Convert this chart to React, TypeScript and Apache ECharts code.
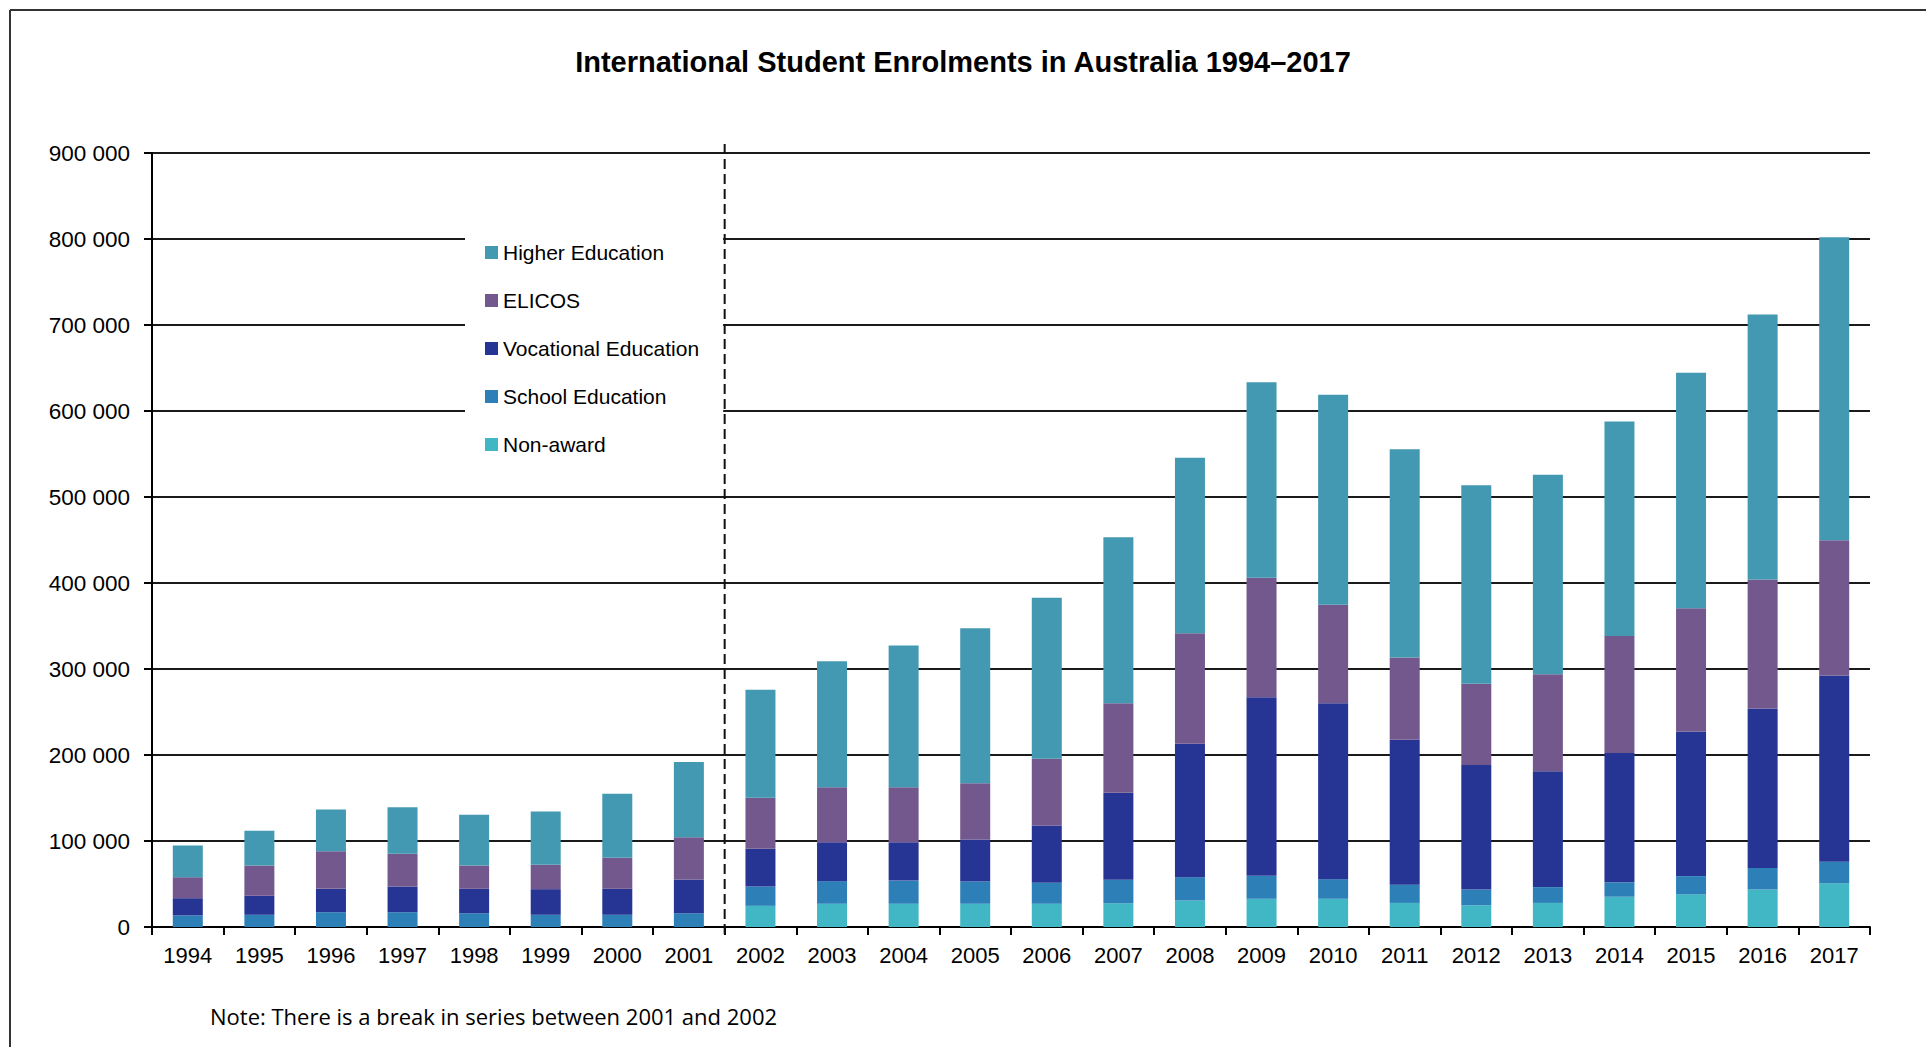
import React, { useEffect, useRef } from 'react';
import * as echarts from 'echarts';

const years = [
  '1994', '1995', '1996', '1997', '1998', '1999', '2000', '2001',
  '2002', '2003', '2004', '2005', '2006', '2007', '2008', '2009',
  '2010', '2011', '2012', '2013', '2014', '2015', '2016', '2017',
];

const nonAward = [0, 0, 0, 0, 0, 0, 0, 0, 24600, 27000, 27000, 27000, 27000, 27700, 30800, 32800, 32800, 28000, 25200, 28000, 35200, 38000, 43600, 50800];
const schoolEducation = [13400, 14200, 17200, 17200, 16000, 14200, 14200, 16000, 22500, 26300, 27000, 25900, 24400, 27200, 27100, 26700, 22800, 21200, 18400, 18400, 16800, 21200, 25000, 25100];
const vocationalEducation = [20100, 22100, 27200, 29900, 28400, 29800, 30200, 39200, 43800, 45300, 44600, 48800, 66600, 101100, 155100, 207700, 204600, 168600, 144700, 134600, 150200, 168000, 185400, 216400];
const elicos = [24400, 35200, 43700, 38000, 27100, 28300, 36100, 49200, 59300, 64000, 64000, 65500, 77600, 104200, 128600, 138800, 114500, 95700, 94500, 113000, 136300, 143500, 150200, 157500];
const higherEducation = [36900, 40500, 48500, 54200, 59000, 62000, 74400, 87400, 125800, 146400, 164800, 180200, 187200, 193100, 204000, 227500, 244100, 242000, 230900, 232000, 249300, 273800, 308100, 352200];

const legendOrder = ['Higher Education', 'ELICOS', 'Vocational Education', 'School Education', 'Non-award'];

const titleText = 'International Student Enrolments in Australia 1994\u20132017';
const noteText = 'Note: There is a break in series between 2001 and 2002';

const FONT = '"Liberation Sans", Arial, sans-serif';

export default function App() {
  const ref = useRef<HTMLDivElement>(null);

  useEffect(() => {
    if (!ref.current) return;
    const chart = echarts.init(ref.current, null, { renderer: 'svg' });

    const mk = (name: string, data: number[], color: string) => ({
      name,
      type: 'bar',
      stack: 'total',
      data,
      barWidth: 30,
      itemStyle: { color },
      emphasis: { disabled: true },
    });

    chart.setOption({
      animation: false,
      backgroundColor: '#ffffff',
      title: {
        text: titleText,
        left: 'center',
        top: 42,
        textStyle: { fontFamily: FONT, fontSize: 29, fontWeight: 'bold', color: '#000' },
      },
      legend: {
        data: legendOrder,
        orient: 'vertical',
        left: 465,
        top: 220,
        backgroundColor: '#ffffff',
        padding: [22, 24, 22, 20],
        itemGap: 27,
        itemWidth: 13,
        itemHeight: 13,
        icon: 'rect',
        selectedMode: false,
        textStyle: { fontFamily: FONT, fontSize: 21, color: '#000' },
      },
      grid: { left: 152, right: 56, top: 153, bottom: 120 },
      xAxis: {
        type: 'category',
        data: years,
        axisLine: { show: true, lineStyle: { color: '#000', width: 2 } },
        axisTick: { show: true, length: 8, interval: 0, lineStyle: { color: '#000', width: 2 } },
        axisLabel: { interval: 0, margin: 17, fontFamily: FONT, fontSize: 22, color: '#000' },
        splitLine: { show: false },
      },
      yAxis: {
        type: 'value',
        min: 0,
        max: 900000,
        interval: 100000,
        axisLine: { show: true, lineStyle: { color: '#000', width: 2 } },
        axisTick: { show: true, length: 8, lineStyle: { color: '#000', width: 2 } },
        axisLabel: {
          margin: 22,
          fontFamily: FONT,
          fontSize: 22.5,
          color: '#000',
          formatter: (v: number) => (v === 0 ? '0' : `${v / 1000} 000`),
        },
        splitLine: { show: true, lineStyle: { color: '#1a1a1a', width: 2 } },
      },
      series: [
        mk('Non-award', nonAward, '#41b6c4'),
        mk('School Education', schoolEducation, '#2d7fb8'),
        mk('Vocational Education', vocationalEducation, '#263593'),
        mk('ELICOS', elicos, '#73588d'),
        mk('Higher Education', higherEducation, '#4399b1'),
      ],
    });

    const x7 = chart.convertToPixel({ xAxisIndex: 0 }, years[7]) as number;
    const x8 = chart.convertToPixel({ xAxisIndex: 0 }, years[8]) as number;
    const breakX = (x7 + x8) / 2;
    const yTop = chart.convertToPixel({ yAxisIndex: 0 }, 900000) as number;
    const yBottom = chart.convertToPixel({ yAxisIndex: 0 }, 0) as number;

    chart.setOption({
      graphic: [
        {
          type: 'line',
          z: 100,
          shape: { x1: 10, y1: 10, x2: 1926, y2: 10 },
          style: { stroke: '#333', lineWidth: 2 },
        },
        {
          type: 'line',
          z: 100,
          shape: { x1: 10, y1: 10, x2: 10, y2: 1047 },
          style: { stroke: '#333', lineWidth: 2 },
        },
        {
          type: 'line',
          z: 100,
          shape: { x1: breakX, y1: yTop - 9, x2: breakX, y2: yBottom + 8 },
          style: { stroke: '#111', lineWidth: 2, lineDash: [10, 5] },
        },
        {
          type: 'text',
          z: 100,
          x: 210,
          y: 1016,
          style: {
            text: noteText,
            font: '22px "Open Sans", "Noto Sans", sans-serif',
            fill: '#000',
            verticalAlign: 'middle',
          },
        },
      ],
    });

    return () => chart.dispose();
  }, []);

  return (
    <div
      ref={ref}
      style={{ position: 'fixed', left: 0, top: 0, width: 1926, height: 1047, background: '#fff' }}
    />
  );
}
